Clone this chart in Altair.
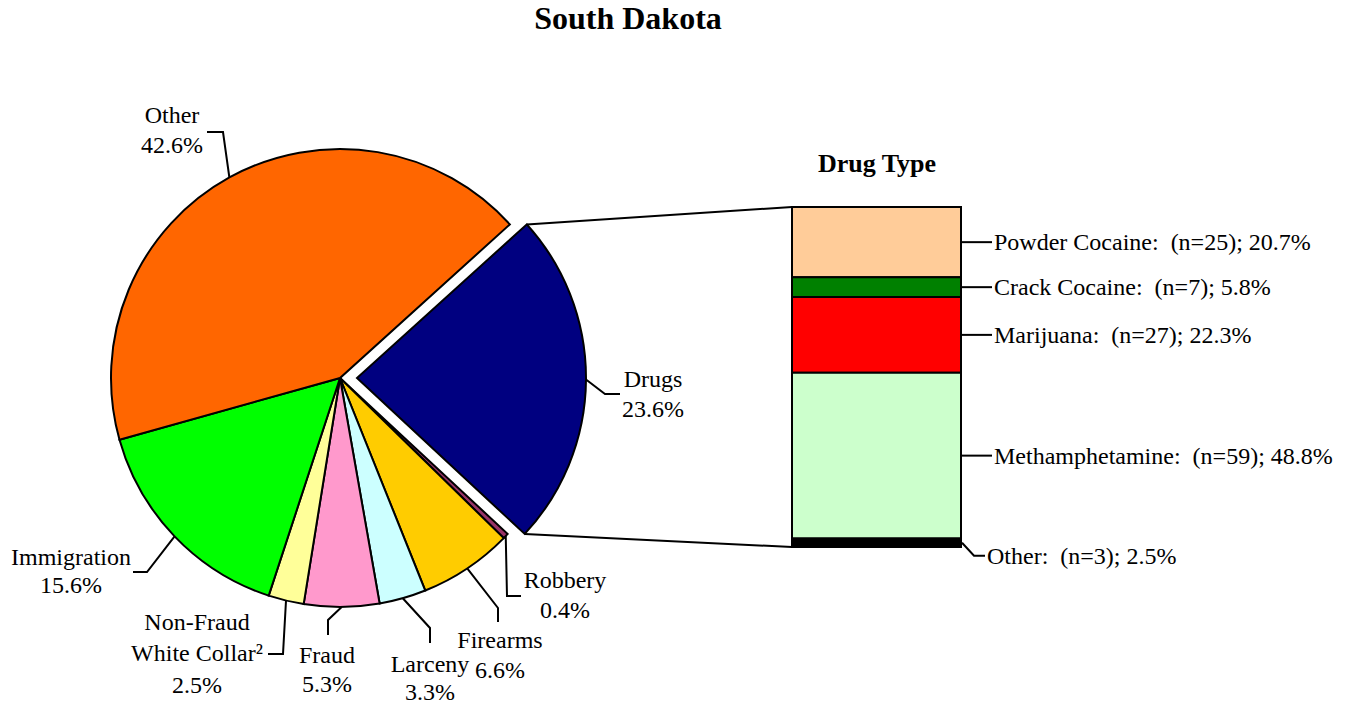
import math
import altair as alt
import pandas as pd

# ---------------- data ----------------
crime_names = ["Drugs", "Robbery", "Firearms", "Larceny", "Fraud",
               "Non-Fraud White Collar", "Immigration", "Other"]
crime_pcts = [23.6, 0.4, 6.6, 3.3, 5.3, 2.5, 15.6, 42.6]
crime_colors = ["#000080", "#993366", "#FFCC00", "#CCFFFF", "#FF99CC",
                "#FFFF99", "#00FF00", "#FF6600"]
crime_label_lines = [["Drugs", "23.6%"], ["Robbery", "0.4%"], ["Firearms", "6.6%"],
                     ["Larceny", "3.3%"], ["Fraud", "5.3%"],
                     ["Non-Fraud", "White Collar\u00b2", "2.5%"],
                     ["Immigration", "15.6%"], ["Other", "42.6%"]]

drug_names = ["Powder Cocaine", "Crack Cocaine", "Marijuana", "Methamphetamine", "Other"]
drug_counts = [25, 7, 27, 59, 3]
drug_pcts = [20.7, 5.8, 22.3, 48.8, 2.5]
drug_colors = ["#FFCC99", "#008000", "#FF0000", "#CCFFCC", "#000000"]

title_text = "South Dakota"
bar_title = "Drug Type"

# ---------------- layout (page pixels, converted below) ----------------
OX, OY = 8, 16          # page position of the plot origin
W, H = 1331, 688
PCX, PCY, R = 340, 378, 229
EXPLODE = 17
START_DEG = 47.87
PBX0, PBX1 = 792, 961
PBY_TOP, PBY_BOT = 207, 547
FONT = "Liberation Serif"
FS = 24

crime_total = sum(crime_pcts)
drug_total = sum(drug_pcts)
A0 = math.radians(START_DEG)


def pie_point(angle, r, cx, cy):
    return cx + r * math.sin(angle), cy - r * math.cos(angle)


cum = 0.0
mids, starts, ends = [], [], []
for p in crime_pcts:
    a_s = A0 + 2 * math.pi * cum / crime_total
    cum += p
    a_e = A0 + 2 * math.pi * cum / crime_total
    starts.append(a_s)
    ends.append(a_e)
    mids.append((a_s + a_e) / 2)

label_layout = {
    "Drugs":       dict(path=[(605, 394), (620, 394)], tx=653, ty=[387, 417]),
    "Robbery":     dict(path=[(507, 596), (521, 596)], tx=565, ty=[588, 618]),
    "Firearms":    dict(path=[(498, 608), (498, 622)], tx=500, ty=[648, 678]),
    "Larceny":     dict(path=[(430, 628), (430, 643)], tx=430, ty=[672, 700]),
    "Fraud":       dict(path=[(328, 620), (328, 635)], tx=327, ty=[663, 692]),
    "Non-Fraud White Collar": dict(path=[(283, 654), (268, 654)], tx=197, ty=[630, 661, 693]),
    "Immigration": dict(path=[(147, 572), (133, 572)], tx=71, ty=[565, 593]),
    "Other":       dict(path=[(223, 132), (207, 132)], tx=172, ty=[123, 153]),
}

line_rows = []
text_rows = []


def add_line(lid, pts):
    for k, (px, py) in enumerate(pts):
        line_rows.append(dict(id=lid, seq=k, px=px - OX, py=py - OY))


for i, name in enumerate(crime_names):
    cx = PCX + (EXPLODE if name == "Drugs" else 0)
    sx, sy = pie_point(mids[i], R, cx, PCY)
    add_line("c" + str(i), [(sx, sy)] + label_layout[name]["path"])
    for txt, ty in zip(crime_label_lines[i], label_layout[name]["ty"]):
        text_rows.append(dict(px=label_layout[name]["tx"] - OX, py=ty - OY, txt=txt))

d_i = crime_names.index("Drugs")
p_top = pie_point(starts[d_i], R, PCX + EXPLODE, PCY)
p_bot = pie_point(ends[d_i], R, PCX + EXPLODE, PCY)
add_line("t", [p_top, (PBX0, PBY_TOP)])
add_line("b", [p_bot, (PBX0, PBY_BOT)])

px_per = (PBY_BOT - PBY_TOP) / drug_total
top = PBY_TOP
bar_text_rows = []
for j, name in enumerate(drug_names):
    seg_top = top
    seg_bot = top + drug_pcts[j] * px_per
    top = seg_bot
    mid = (seg_top + seg_bot) / 2
    if name == "Other":
        pts = [(PBX1 + 1, mid), (PBX1 + 13, mid + 13), (PBX1 + 24, mid + 13)]
        ty = mid + 14
    else:
        pts = [(PBX1 + 1, mid), (PBX1 + 31, mid)]
        ty = mid + 1
    add_line("d" + str(j), pts)
    bar_text_rows.append(dict(px=pts[-1][0] + 2 - OX, py=ty - OY,
                              txt=f"{name}:\u00a0 (n={drug_counts[j]}); {drug_pcts[j]}%"))

# ---------------- charts ----------------
pie_df = pd.DataFrame({"crime": crime_names, "pct": crime_pcts,
                       "ord": list(range(len(crime_names)))})
theta = alt.Theta("pct:Q", stack=True,
                  scale=alt.Scale(domain=[0, crime_total], range=[A0, A0 + 2 * math.pi]))
pie_color = alt.Color("crime:N", scale=alt.Scale(domain=crime_names, range=crime_colors),
                      legend=None)
pie_base = alt.Chart(pie_df).mark_arc(outerRadius=R, stroke="black", strokeWidth=2,
                                      strokeJoin="miter").encode(
    theta=theta, color=pie_color, order=alt.Order("ord:Q"))
pie_main = pie_base.encode(
    x=alt.value(PCX - OX), y=alt.value(PCY - OY),
    opacity=alt.condition(alt.datum.crime != "Drugs", alt.value(1), alt.value(0)))
pie_drug = pie_base.encode(
    x=alt.value(PCX + EXPLODE - OX), y=alt.value(PCY - OY),
    opacity=alt.condition(alt.datum.crime == "Drugs", alt.value(1), alt.value(0)))

bar_df = pd.DataFrame({"drug": drug_names, "pct": drug_pcts,
                       "ord": list(range(len(drug_names)))[::-1]})
bar = alt.Chart(bar_df).transform_window(
    cum="sum(pct)", sort=[alt.SortField("ord", order="ascending")],
    frame=[None, 0]
).transform_calculate(lo="datum.cum - datum.pct").mark_rect(
    stroke="black", strokeWidth=2).encode(
    x=alt.value(PBX0 - OX), x2=alt.value(PBX1 - OX),
    y=alt.Y("lo:Q", axis=None,
            scale=alt.Scale(domain=[0, drug_total], range=[PBY_BOT - OY, PBY_TOP - OY])),
    y2="cum:Q",
    color=alt.Color("drug:N", scale=alt.Scale(domain=drug_names, range=drug_colors),
                    legend=None))

lines = alt.Chart(pd.DataFrame(line_rows)).mark_line(color="black", strokeWidth=2).encode(
    x=alt.X("px:Q", scale=None, axis=None),
    y=alt.Y("py:Q", scale=None, axis=None),
    detail="id:N", order="seq:Q")

pie_text = alt.Chart(pd.DataFrame(text_rows)).mark_text(
    font=FONT, fontSize=FS, align="center", baseline="alphabetic", color="black").encode(
    x=alt.X("px:Q", scale=None, axis=None), y=alt.Y("py:Q", scale=None, axis=None),
    text="txt:N")

bar_text = alt.Chart(pd.DataFrame(bar_text_rows)).mark_text(
    font=FONT, fontSize=FS, align="left", baseline="middle", color="black").encode(
    x=alt.X("px:Q", scale=None, axis=None), y=alt.Y("py:Q", scale=None, axis=None),
    text="txt:N")

titles = alt.Chart(pd.DataFrame({"px": [628 - OX, 877 - OX], "py": [29 - OY, 172 - OY],
                                 "txt": [title_text, bar_title],
                                 "fs": [32, 26]})).mark_text(
    font=FONT, fontWeight="bold", align="center", baseline="alphabetic", color="black").encode(
    x=alt.X("px:Q", scale=None, axis=None), y=alt.Y("py:Q", scale=None, axis=None),
    text="txt:N", size=alt.Size("fs:Q", scale=None, legend=None))

chart = alt.layer(lines, pie_main, pie_drug, bar, pie_text, bar_text, titles).resolve_scale(
    x="independent", y="independent", color="independent", size="independent"
).properties(width=W, height=H, autosize="none",
             padding={"left": 0, "top": OY - 8, "right": 0, "bottom": 0}
).configure_view(stroke=None)

chart.save("out.html", embed_options={"renderer": "svg", "actions": False})
